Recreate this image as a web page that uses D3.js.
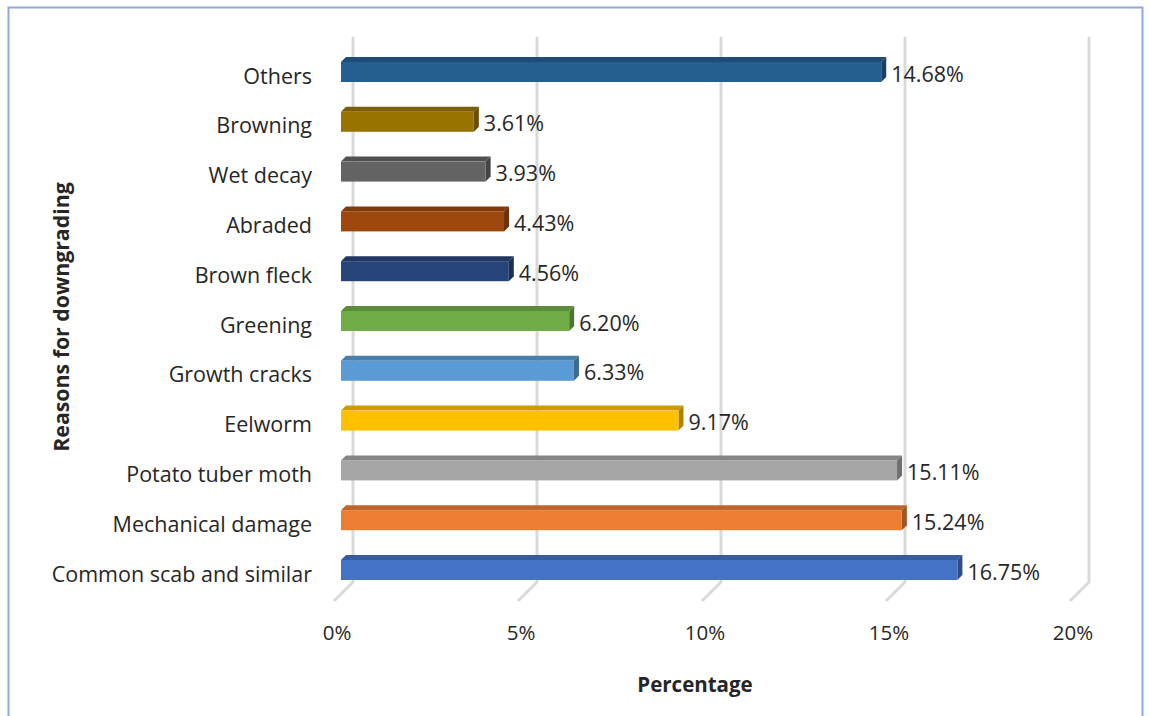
<!DOCTYPE html>
<html>
<head>
<meta charset="utf-8">
<script src="https://cdn.jsdelivr.net/npm/d3@7"></script>
<style>
  body { margin: 0; background: #fff; }
  svg text { font-family: "Open Sans", sans-serif; }
</style>
</head>
<body>
<figure style="margin:0"></figure>
<script>
const categories = ['Others', 'Browning', 'Wet decay', 'Abraded', 'Brown fleck', 'Greening',
  'Growth cracks', 'Eelworm', 'Potato tuber moth', 'Mechanical damage', 'Common scab and similar']
const values = [14.68, 3.61, 3.93, 4.43, 4.56, 6.20, 6.33, 9.17, 15.11, 15.24, 16.75]
const colors = ['#255E91', '#997300', '#636363', '#9E480E', '#264478', '#70AD47',
  '#5B9BD5', '#FFC000', '#A5A5A5', '#ED7D31', '#4472C4']
const ticks = [0, 5, 10, 15, 20]

const W = 1149, H = 716

const svg = d3.select('figure')
  .append('svg')
    .attr('width', W)
    .attr('height', H)

// chart frame
svg.append('rect')
  .attr('x', 8.5).attr('y', 7.5)
  .attr('width', 1134).attr('height', 720)
  .attr('fill', 'none')
  .attr('stroke', '#8FAADC')
  .attr('stroke-width', 2)

// back wall scale (gridlines), bars sit 12px in front of it
const x = d3.scaleLinear().domain([0, 20]).range([353, 1089])
const y = d3.scalePoint().domain(categories).range([72, 570])
const front = 12, depth = 5, barH = 20

// gridlines with floor return
svg.append('g')
  .selectAll('path')
  .data(ticks)
  .join('path')
    .attr('d', d => `M${x(d)},38 L${x(d)},582 L${x(d) - 18},600`)
    .attr('fill', 'none')
    .attr('stroke', '#DADADA')
    .attr('stroke-width', 3)
    .attr('stroke-linecap', 'round')
    .attr('stroke-linejoin', 'round')

svg.append('g')
  .selectAll('text')
  .data(ticks)
  .join('text')
    .attr('x', d => x(d) - 16)
    .attr('y', 640)
    .attr('text-anchor', 'middle')
    .attr('font-size', 20.5)
    .attr('fill', '#262626')
    .text(d => d + '%')

// bars
const bars = svg.append('g')
  .selectAll('g')
  .data(categories)
  .join('g')

bars.each(function(c, i) {
  const g = d3.select(this)
  const x0 = x(0) - front, x1 = x(values[i]) - front
  const y0 = y(c) - barH / 2, y1 = y(c) + barH / 2
  const col = d3.color(colors[i])
  g.append('path')
    .attr('d', `M${x0},${y0} L${x0 + depth},${y0 - depth} L${x1 + depth},${y0 - depth} L${x1},${y0} Z`)
    .attr('fill', col.darker(0.6))
  g.append('path')
    .attr('d', `M${x1},${y0} L${x1 + depth},${y0 - depth} L${x1 + depth},${y1 - depth} L${x1},${y1} Z`)
    .attr('fill', col.darker(1.1))
  g.append('rect')
    .attr('x', x0).attr('y', y0)
    .attr('width', x1 - x0).attr('height', barH)
    .attr('fill', colors[i])
  g.append('text')
    .attr('x', x1 + depth + 5)
    .attr('y', y(c) + 2)
    .attr('dy', '0.35em')
    .attr('font-size', 21.5)
    .attr('fill', '#262626')
    .text(values[i].toFixed(2) + '%')
})

// category labels
svg.append('g')
  .selectAll('text')
  .data(categories)
  .join('text')
    .attr('x', 312)
    .attr('y', d => y(d) + 4)
    .attr('dy', '0.35em')
    .attr('text-anchor', 'end')
    .attr('font-size', 21.5)
    .attr('fill', '#262626')
    .text(d => d)

// axis titles
svg.append('text')
  .attr('transform', 'translate(69,317) rotate(-90)')
  .attr('text-anchor', 'middle')
  .attr('font-size', 21.3)
  .attr('font-weight', 'bold')
  .attr('fill', '#262626')
  .text('Reasons for downgrading')

svg.append('text')
  .attr('x', 695)
  .attr('y', 692)
  .attr('text-anchor', 'middle')
  .attr('font-size', 20.5)
  .attr('font-weight', 'bold')
  .attr('fill', '#262626')
  .text('Percentage')
</script>
</body>
</html>
